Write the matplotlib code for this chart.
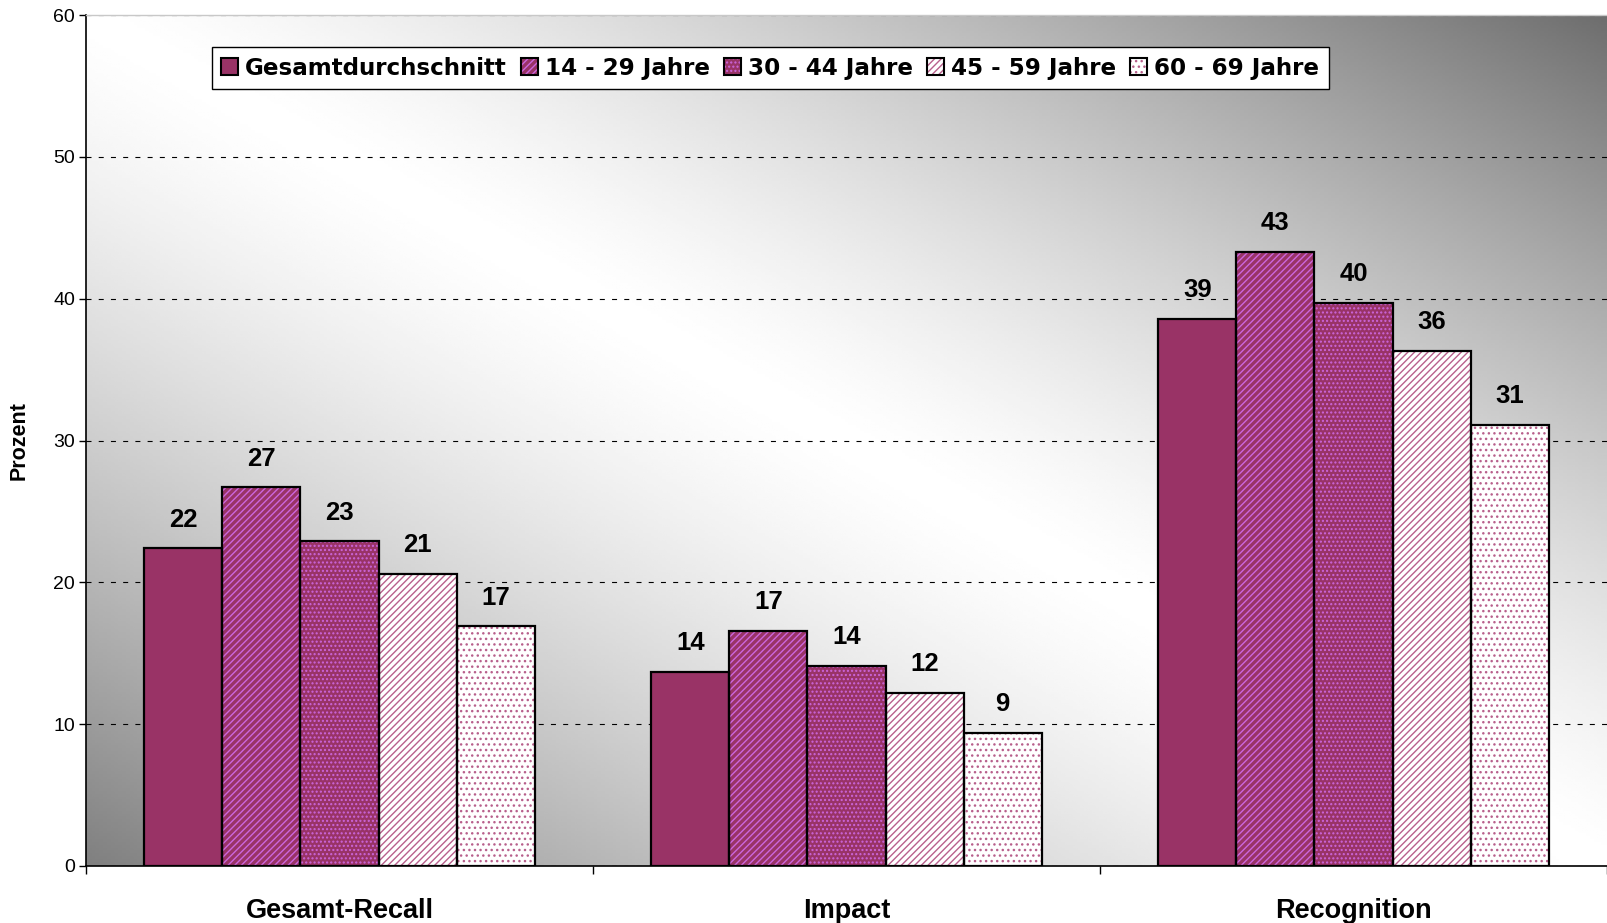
# Werbewirkung nach Altersgruppen - gruppiertes Balkendiagramm

import matplotlib
matplotlib.use('Agg')
import matplotlib.pyplot as plt
from matplotlib.patches import Patch
import numpy as np

plt.rcParams['font.family'] = ['Liberation Sans', 'DejaVu Sans']
plt.rcParams['hatch.linewidth'] = 1.0


# 데이터 선언
kategorien = ['Gesamt-Recall', 'Impact', 'Recognition']
serien = ['Gesamtdurchschnitt', '14 - 29 Jahre', '30 - 44 Jahre', '45 - 59 Jahre', '60 - 69 Jahre']
gesamt = [22.4, 13.7, 38.6]
jahre_14_29 = [26.7, 16.6, 43.3]
jahre_30_44 = [22.9, 14.1, 39.7]
jahre_45_59 = [20.6, 12.2, 36.3]
jahre_60_69 = [16.9, 9.4, 31.1]
werte = [gesamt, jahre_14_29, jahre_30_44, jahre_45_59, jahre_60_69]
y_ticks = [0, 10, 20, 30, 40, 50, 60]


# 스타일 선언
pflaume = '#993366'
flieder = '#cc66dd'
farben = [pflaume, pflaume, pflaume, 'white', 'white']  # 막대 바탕색
muster_farben = [pflaume, flieder, flieder, '#b8608c', '#b8608c']  # 해칭 색
muster = ['', '/////', '....', '/////', '...']
breite = 0.154


fig = plt.figure(figsize=(16.07, 9.23), dpi=100)
ax = fig.add_axes([86 / 1607, 1 - 866 / 923, 1 - 86 / 1607, (866 - 15) / 923])


# 배경 그라데이션 (왼쪽 아래, 오른쪽 위가 어두움)
gx, gy = np.meshgrid(np.linspace(0, 1, 400), np.linspace(0, 1, 300))
t = (gx + gy) / 2
d = np.abs(2 * t - 1) ** 1.35
grau = np.where(t < 0.5, 1 - 0.5 * d, 1 - 0.57 * d)
ax.imshow(grau, extent=[0, 1, 0, 1], transform=ax.transAxes, origin='lower',
          aspect='auto', cmap='gray', vmin=0, vmax=1, zorder=0)


# 막대 그리기
x = np.arange(len(kategorien))
griffe = []
for i, name in enumerate(serien):
    pos = x + (i - 2) * breite
    ax.bar(pos, werte[i], breite, color=farben[i], edgecolor=muster_farben[i],
           hatch=muster[i], linewidth=0, zorder=2)
    rahmen = ax.bar(pos, werte[i], breite, facecolor='none', edgecolor='black',
                    linewidth=1.6, zorder=3)
    ax.bar_label(rahmen, labels=[f'{v:.0f}' for v in werte[i]], padding=12,
                 fontsize=18.5, fontweight='bold')
    griffe.append((Patch(facecolor=farben[i], edgecolor=muster_farben[i], hatch=muster[i], linewidth=0),
                   Patch(facecolor='none', edgecolor='black', linewidth=1.5)))


# 축 설정
ax.set_xlim(-0.5, 2.5)
ax.set_ylim(0, 60)
ax.set_yticks(y_ticks)
ax.tick_params(axis='y', labelsize=14, length=5, width=1, pad=3)
ax.set_xticks(x)
ax.set_xticklabels(kategorien, fontsize=19.5, fontweight='bold')
ax.set_xticks([-0.5, 0.5, 1.5, 2.5], minor=True)
ax.tick_params(axis='x', which='major', length=0, pad=23)
ax.tick_params(axis='x', which='minor', length=6, width=1)

ax.set_axisbelow(True)
ax.yaxis.grid(True, linestyle=(0, (4.5, 6.5)), color='black', linewidth=0.8)

ax.spines['right'].set_visible(False)
ax.spines['top'].set_color('#c8c8c8')
ax.spines['top'].set_linewidth(1)
ax.spines['left'].set_linewidth(1.2)
ax.spines['bottom'].set_linewidth(1.2)

ax.set_ylabel('Prozent', fontsize=15.5, fontweight='bold')
ax.yaxis.set_label_coords(-0.037, 0.5)


# 범례
leg = ax.legend(griffe, serien, loc='upper left', bbox_to_anchor=(0.0828, 0.962), ncol=5,
                prop=dict(family='DejaVu Sans', weight='bold', size=16.6),
                handlelength=0.75, handleheight=0.75, handletextpad=0.3, columnspacing=0.6,
                borderpad=0.4, borderaxespad=0, fancybox=False, framealpha=1)
leg.get_frame().set_edgecolor('black')
leg.get_frame().set_linewidth(1)

plt.savefig('out.png', dpi=100)
